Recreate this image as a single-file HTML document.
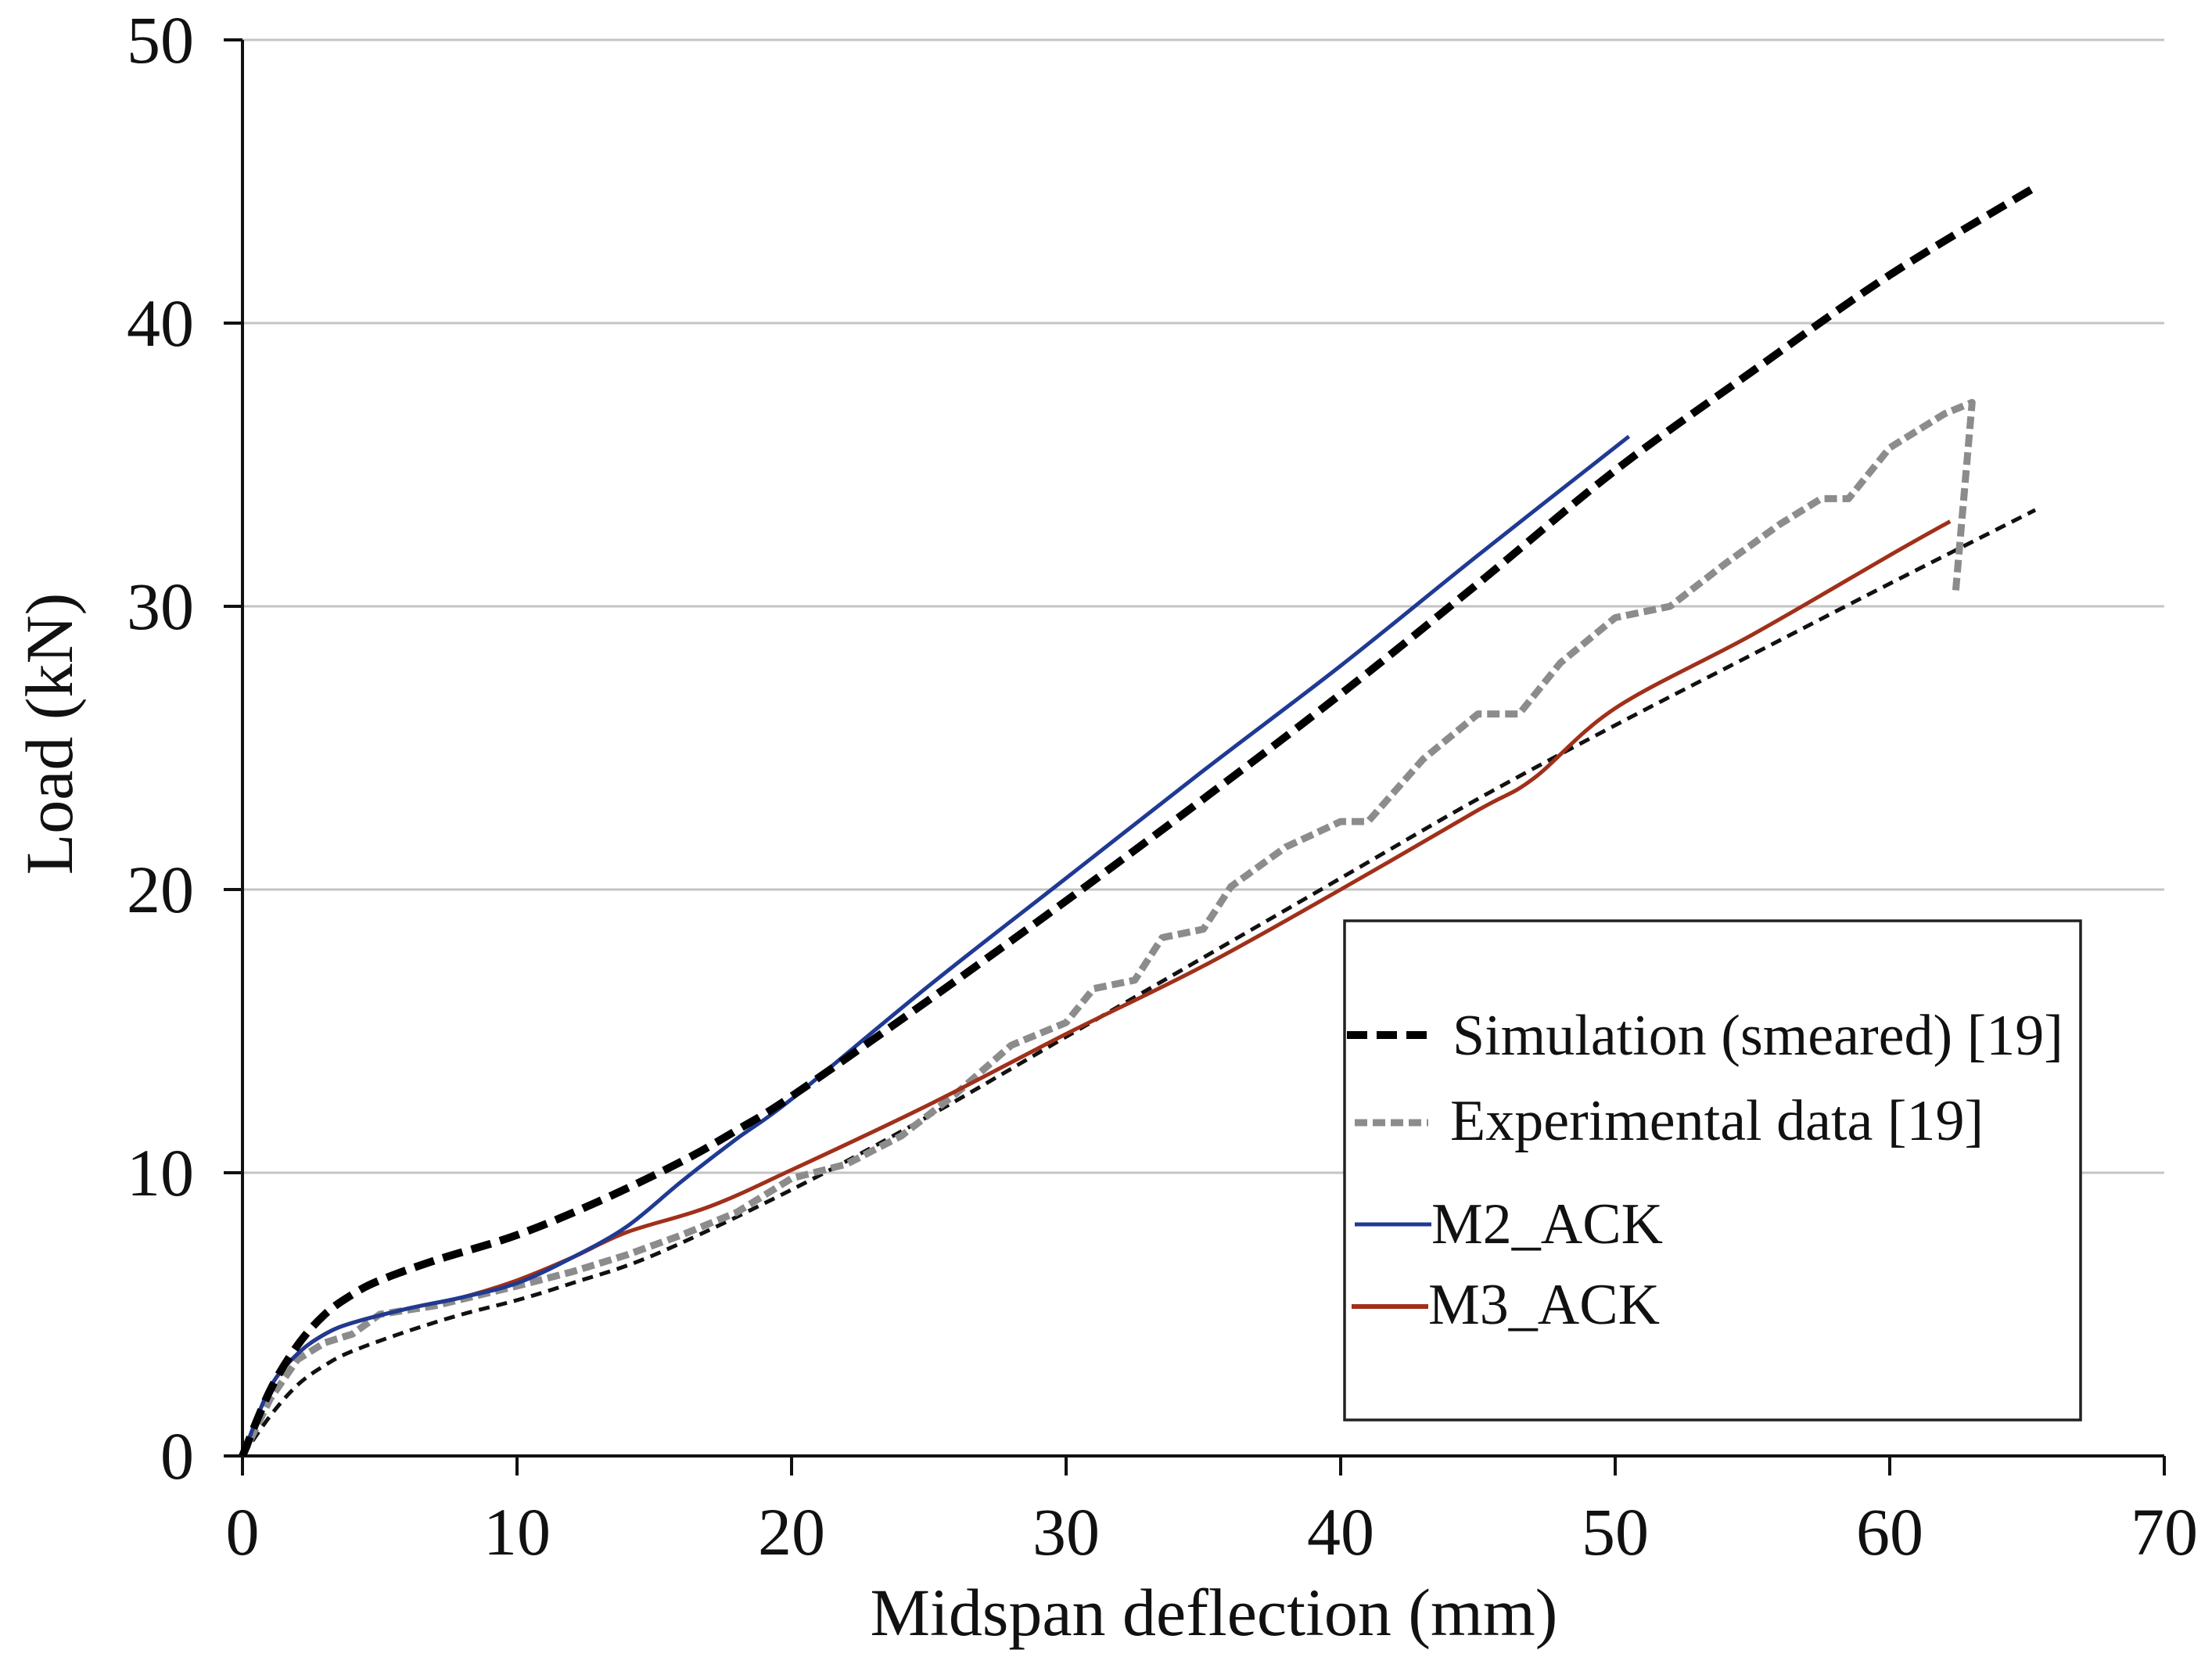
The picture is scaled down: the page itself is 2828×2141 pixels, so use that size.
<!DOCTYPE html>
<html><head><meta charset="utf-8"><style>
html,body{margin:0;padding:0;background:#fff;}
svg{display:block;}
text{font-family:"Liberation Serif",serif;fill:#111;}
</style></head><body>
<svg id="chart" width="2828" height="2141" viewBox="0 0 2828 2141" xmlns="http://www.w3.org/2000/svg">
<g id="grid"></g>
<g id="axes"></g>
<g id="series"></g>
<g id="legend">
 <rect x="1719" y="1177" width="941" height="638" fill="#fff" stroke="#222" stroke-width="3.5"/>
 <line x1="1722" y1="1323" x2="1830" y2="1323" stroke="#000" stroke-width="10" stroke-dasharray="26,12"/>
 <text x="1857" y="1348" font-size="74">Simulation (smeared) [19]</text>
 <line x1="1732" y1="1435" x2="1826" y2="1435" stroke="#8c8c8c" stroke-width="9" stroke-dasharray="16,7"/>
 <text x="1854" y="1457" font-size="74">Experimental data [19]</text>
 <line x1="1732" y1="1565" x2="1830" y2="1565" stroke="#1f3a93" stroke-width="5"/>
 <text x="1830" y="1589" font-size="74">M2_ACK</text>
 <line x1="1728" y1="1670" x2="1826" y2="1670" stroke="#a0301a" stroke-width="6"/>
 <text x="1826" y="1692" font-size="74">M3_ACK</text>
</g>
<text x="1552" y="2090" font-size="86" text-anchor="middle">Midspan deflection (mm)</text>
<text transform="translate(92,938) rotate(-90)" font-size="86" text-anchor="middle">Load (kN)</text>
</svg>
<script>
const xTicks=[0,10,20,30,40,50,60,70];
const yTicks=[0,10,20,30,40,50];
const simX=[0,1,2,3,4,5,7,10,13,16,18,20,25,30,35,40,45,50,55,60,65.3];
const simY=[0,2.3,3.9,5.0,5.7,6.2,6.9,7.8,9.0,10.4,11.5,12.7,16.1,19.6,23.2,26.9,30.8,34.8,38.3,41.7,44.8];
const thinX=[0,1,2,3,4,6,8,10,12,15,20,25,30,35,40,45,50,55,60,65.3];
const thinY=[0,1.4,2.5,3.2,3.7,4.4,5.0,5.5,6.1,7.1,9.4,12.0,14.8,17.6,20.4,23.2,25.8,28.3,30.8,33.4];
const m2X=[0,1,2,3,4,6,8,10,12,14,16,18,20,25,30,35,40,45,50.5];
const m2Y=[0,2.4,3.6,4.3,4.7,5.2,5.6,6.1,7.0,8.1,9.7,11.2,12.6,16.6,20.4,24.2,27.9,31.8,36.0];
const m3X=[0,1,2,3,4,6,8,10,12,14,17,20,25,30,35,40,45,47,50,55,60,62.2];
const m3Y=[0,2.4,3.6,4.3,4.7,5.2,5.6,6.2,7.0,7.9,8.8,10.1,12.4,14.9,17.3,20.0,22.8,23.9,26.4,29.0,31.8,33.0];
const expX=[0,1,2,3,4,5,7,10,12,14,16,18,20,22,24,26,28,30,31,32.5,33.5,35,36,38,40,41,43,45,46.5,48,50,52,54,56,57.5,58.5,60,62,63,62.4];
const expY=[0,2,3.4,4,4.3,5,5.3,6,6.5,7.1,7.8,8.6,9.8,10.3,11.3,12.8,14.5,15.3,16.5,16.8,18.3,18.6,20.1,21.5,22.4,22.4,24.6,26.2,26.2,28,29.6,30,31.5,32.9,33.8,33.8,35.6,36.8,37.2,30.5];
const NS='http://www.w3.org/2000/svg';
const X0=310,XPER=35.1,Y0=1861,YPER=36.2;
function sx(v){return X0+v*XPER;}
function sy(v){return Y0-v*YPER;}
function mk(tag,attrs,parent){const e=document.createElementNS(NS,tag);for(const k in attrs)e.setAttribute(k,attrs[k]);parent.appendChild(e);return e;}
const grid=document.getElementById('grid'),axes=document.getElementById('axes'),ser=document.getElementById('series');
yTicks.forEach(v=>{
 if(v>0){const g=mk('line',{x1:X0,x2:sx(70),y1:sy(v),y2:sy(v),stroke:'#c4c4c4','stroke-width':3},grid);
 
 }
 const t=mk('line',{x1:X0-24,x2:X0,y1:sy(v),y2:sy(v),stroke:'#111','stroke-width':4},axes);
 
 
 const l=mk('text',{x:248,y:sy(v)+29,'font-size':86,'text-anchor':'end'},axes);l.textContent=v;
 
 
});
xTicks.forEach(v=>{
 const t=mk('line',{x1:sx(v),x2:sx(v),y1:Y0,y2:Y0+25,stroke:'#111','stroke-width':4},axes);
 
 
 const l=mk('text',{x:sx(v),y:1987,'font-size':86,'text-anchor':'middle'},axes);l.textContent=v;
 
 
});
const ya=mk('line',{x1:X0,x2:X0,y1:sy(50),y2:Y0+25,stroke:'#111','stroke-width':4},axes);


const xa=mk('line',{x1:X0-24,x2:sx(70),y1:Y0,y2:Y0,stroke:'#111','stroke-width':4},axes);


function path(xs,ys){return xs.map((x,i)=>(i?'L':'M')+sx(x).toFixed(1)+','+sy(ys[i]).toFixed(1)).join(' ');}
function smooth(xs,ys){
 const P=xs.map((x,i)=>[sx(x),sy(ys[i])]);
 let d='M'+P[0][0].toFixed(1)+','+P[0][1].toFixed(1);
 for(let i=0;i<P.length-1;i++){
  const p0=P[Math.max(0,i-1)],p1=P[i],p2=P[i+1],p3=P[Math.min(P.length-1,i+2)];
  const c1=[p1[0]+(p2[0]-p0[0])/6,p1[1]+(p2[1]-p0[1])/6];
  const c2=[p2[0]-(p3[0]-p1[0])/6,p2[1]-(p3[1]-p1[1])/6];
  d+=' C'+c1[0].toFixed(1)+','+c1[1].toFixed(1)+' '+c2[0].toFixed(1)+','+c2[1].toFixed(1)+' '+p2[0].toFixed(1)+','+p2[1].toFixed(1);
 }
 return d;
}
const pThin=mk('path',{d:smooth(thinX,thinY),fill:'none',stroke:'#111','stroke-width':5,'stroke-dasharray':'14,9'},ser);


const pExp=mk('path',{d:path(expX,expY),fill:'none',stroke:'#8c8c8c','stroke-width':9,'stroke-dasharray':'16,7','stroke-linejoin':'round'},ser);


const pM3=mk('path',{d:smooth(m3X,m3Y),fill:'none',stroke:'#a0301a','stroke-width':5},ser);


const pM2=mk('path',{d:smooth(m2X,m2Y),fill:'none',stroke:'#1f3a93','stroke-width':5},ser);


const pSim=mk('path',{d:smooth(simX,simY),fill:'none',stroke:'#000','stroke-width':10,'stroke-dasharray':'26,12'},ser);


</script>
</body></html>
